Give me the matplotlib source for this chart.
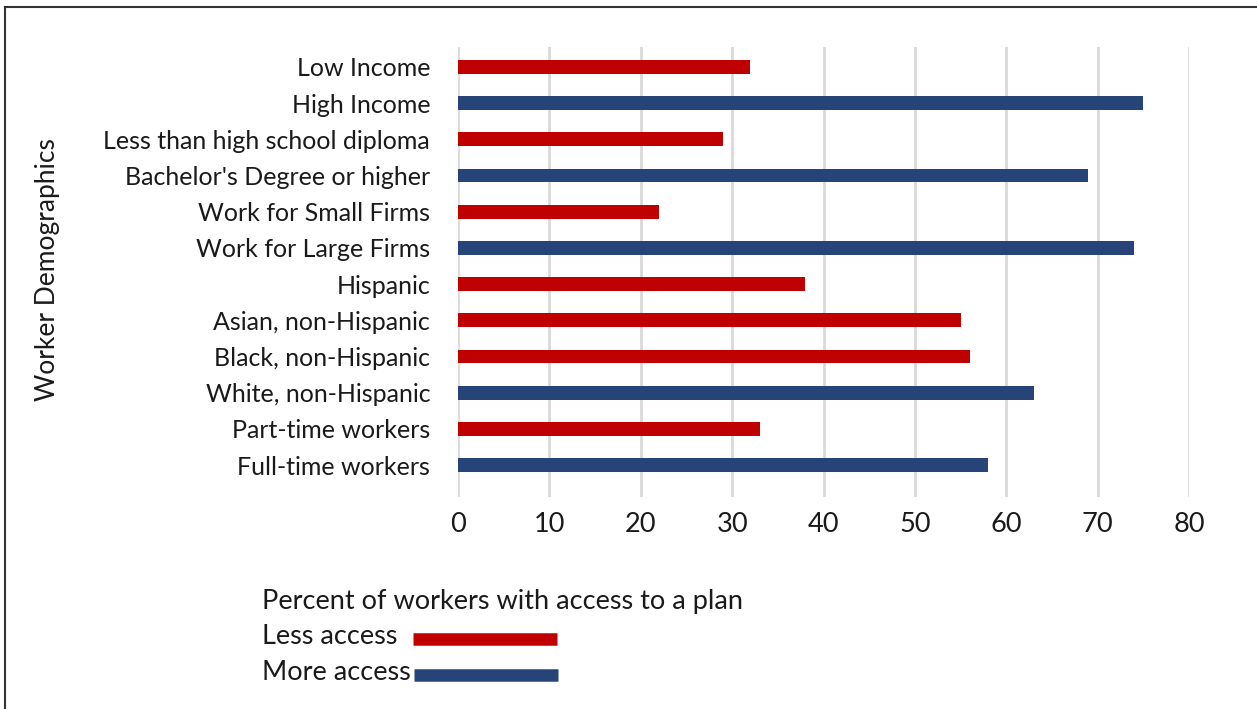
import matplotlib
matplotlib.use("Agg")
import matplotlib.pyplot as plt
from matplotlib.lines import Line2D

categories = ["Low Income", "High Income", "Less than high school diploma",
              "Bachelor's Degree or higher", "Work for Small Firms", "Work for Large Firms",
              "Hispanic", "Asian, non-Hispanic", "Black, non-Hispanic", "White, non-Hispanic",
              "Part-time workers", "Full-time workers"]
values = [32, 75, 29, 69, 22, 74, 38, 55, 56, 63, 33, 58]
access = ["Less", "More", "Less", "More", "Less", "More", "Less", "Less", "Less", "More", "Less", "More"]
xticks = [0, 10, 20, 30, 40, 50, 60, 70, 80]

RED = "#C00000"
BLUE = "#264478"
color_map = {"Less": RED, "More": BLUE}
TXT = "#1a1a1a"

plt.rcParams['font.family'] = ['Lato', 'DejaVu Sans']

W, H = 1257, 709
fig = plt.figure(figsize=(W / 100, H / 100), dpi=100)
ax = fig.add_axes([458 / W, 1 - 497 / H, (1189 - 458) / W, (497 - 47) / H])

ypos = list(range(len(categories)))
ax.barh(ypos, values, height=0.38, color=[color_map[a] for a in access], zorder=3)
ax.set_ylim(len(categories) - 1 + 0.88, -0.55)
ax.set_xlim(0, 80)
ax.set_xticks(xticks)
ax.set_xticklabels([str(t) for t in xticks], fontsize=19.5, color=TXT)
ax.set_yticks(ypos)
ax.set_yticklabels(categories, fontsize=18, color=TXT)
ax.tick_params(axis="both", length=0)
ax.tick_params(axis="x", pad=11)
ax.tick_params(axis="y", pad=20)
ax.grid(axis="x", color="#D9D9D9", linewidth=2, zorder=0)
for s in ax.spines.values():
    s.set_visible(False)
fig.text(48 / W, 1 - 270 / H, "Worker Demographics", rotation=90, fontsize=19,
         color=TXT, ha="center", va="center")

# legend
fig.text(262 / W, 1 - 601 / H, "Percent of workers with access to a plan", fontsize=19.5,
         color=TXT, ha="left", va="center")
fig.text(262 / W, 1 - 637 / H, "Less access", fontsize=19.5, color=TXT, ha="left", va="center")
fig.text(262 / W, 1 - 672 / H, "More access", fontsize=19.5, color=TXT, ha="left", va="center")
fig.add_artist(Line2D([413 / W, 557 / W], [1 - 639 / H] * 2, color=RED, linewidth=9,
                      solid_capstyle="butt", transform=fig.transFigure))
fig.add_artist(Line2D([414 / W, 558 / W], [1 - 675 / H] * 2, color=BLUE, linewidth=9,
                      solid_capstyle="butt", transform=fig.transFigure))

# border (top and left)
fig.add_artist(Line2D([5 / W, 5 / W], [0, 1 - 7 / H], color="#333333", linewidth=1.5,
                      transform=fig.transFigure))
fig.add_artist(Line2D([5 / W, 1], [1 - 7 / H] * 2, color="#333333", linewidth=1.5,
                      transform=fig.transFigure))

fig.savefig("out.png", dpi=100, facecolor="white")
